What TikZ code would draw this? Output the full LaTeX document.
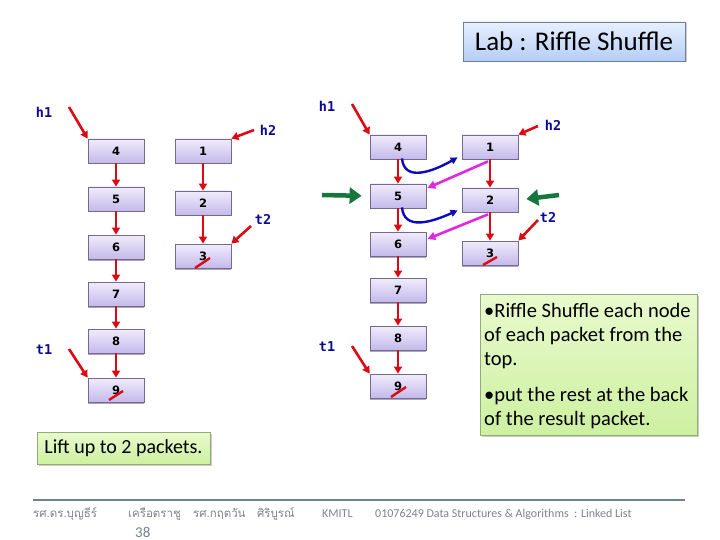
\documentclass[tikz,border=0pt]{standalone}
\usepackage{fontspec}
\setmainfont{Carlito}
\newfontfamily\numfont{DejaVu Sans}
\newfontfamily\labfont{DejaVu Sans Mono}
\newfontfamily\thaifont[Script=Thai]{Loma}
\usetikzlibrary{arrows.meta,shadows,calc}
\definecolor{boxtop}{RGB}{240,236,252}
\definecolor{boxbot}{RGB}{196,186,234}
\definecolor{boxline}{RGB}{115,105,145}
\definecolor{labblue}{RGB}{10,10,150}
\definecolor{arrred}{RGB}{220,10,20}
\definecolor{arrgreen}{RGB}{20,120,60}
\definecolor{curveblue}{RGB}{10,10,190}
\definecolor{magentaarr}{RGB}{225,40,225}
\definecolor{greentop}{RGB}{232,250,205}
\definecolor{greenbot}{RGB}{205,240,160}
\definecolor{greenline}{RGB}{150,170,120}
\definecolor{bluetop}{RGB}{232,240,255}
\definecolor{bluebot}{RGB}{180,205,245}
\definecolor{footgray}{RGB}{130,130,140}
\definecolor{footline}{RGB}{110,130,150}
\tikzset{
  listbox/.style={draw=boxline, line width=0.8pt, top color=boxtop, bottom color=boxbot,
    minimum width=56pt, minimum height=24pt, inner sep=0pt,
    font=\numfont\bfseries\fontsize{11.5}{12}\selectfont,
    drop shadow={shadow xshift=0pt, shadow yshift=-1.5pt, opacity=0.6, fill=boxline}},
  ptrlab/.style={text=labblue, font=\labfont\bfseries\fontsize{13.5}{14}\selectfont, inner sep=0pt},
  redarr/.style={draw=arrred, line width=2.6pt, -{Triangle[length=7pt,width=8pt]}},
  nullmark/.style={draw=arrred, line width=2.4pt},
  greenarr/.style={draw=arrgreen, line width=4.5pt, shorten >=8pt, -{Triangle[length=12pt,width=16pt]}},
  bluearr/.style={draw=curveblue, line width=2.4pt, -{Triangle[length=7pt,width=7pt]}},
  magarr/.style={draw=magentaarr, line width=2.6pt, -{Triangle[length=8pt,width=8pt]}},
  notebox/.style={draw=greenline, line width=0.8pt, top color=greentop, bottom color=greenbot,
    inner sep=0pt, drop shadow={shadow xshift=1.5pt, shadow yshift=-1.5pt, opacity=0.4}},
  titlebox/.style={draw=footline, line width=0.8pt, top color=bluetop, bottom color=bluebot,
    inner sep=0pt, drop shadow={shadow xshift=1.5pt, shadow yshift=-1.5pt, opacity=0.4}},
  foot/.style={text=footgray, inner sep=0pt, anchor=base west}
}
\begin{document}
\begin{tikzpicture}[x=1pt,y=-1pt]
\useasboundingbox (0,0) rectangle (720,540);
\fill[white] (0,0) rectangle (720,540);

% title
\node[titlebox, minimum width=222pt, minimum height=39pt] (title) at (574,41.5)
  {\fontsize{27}{30}\selectfont Lab : Riffle Shuffle};

% ---------- left diagram ----------
\node[listbox] (a4) at (116,151) {4};
\node[listbox] (a5) at (116,199) {5};
\node[listbox] (a6) at (116,247) {6};
\node[listbox] (a7) at (116,294) {7};
\node[listbox] (a8) at (116,341) {8};
\node[listbox] (a9) at (116,390) {9};
\node[listbox] (a1) at (203,151) {1};
\node[listbox] (a2) at (203,203) {2};
\node[listbox] (a3) at (203,256) {3};
\foreach \u/\v in {a4/a5,a5/a6,a6/a7,a7/a8,a8/a9,a1/a2,a2/a3}
  \draw[redarr] (\u.south) -- (\v.north);

\node[ptrlab] (lh1) at (44,112) {h1};
\node[ptrlab] (lh2) at (268,130) {h2};
\node[ptrlab] (lt2) at (263,219) {t2};
\node[ptrlab] (lt1) at (44,350) {t1};
\coordinate (lh1s) at (69,107);
\coordinate (lh2s) at (254,130);
\coordinate (lt2s) at (251,226);
\coordinate (lt1s) at (69,349);
\draw[redarr] (lh1s) -- (a4.north west);
\draw[redarr] (lh2s) -- (a1.north east);
\draw[redarr] (lt2s) -- (a3.north east);
\draw[redarr] (lt1s) -- (a9.north west);
\draw[nullmark] (195,268) -- (210,258);
\draw[nullmark] (109,400) -- (123,391);

% ---------- right diagram ----------
\node[listbox] (b4) at (398,147) {4};
\node[listbox] (b5) at (398,196) {5};
\node[listbox] (b6) at (398,244) {6};
\node[listbox] (b7) at (398,290) {7};
\node[listbox] (b8) at (398,338) {8};
\node[listbox] (b9) at (398,386) {9};
\node[listbox] (b1) at (490,147) {1};
\node[listbox] (b2) at (490,200) {2};
\node[listbox] (b3) at (490,253) {3};
\foreach \u/\v in {b4/b5,b5/b6,b6/b7,b7/b8,b8/b9,b1/b2,b2/b3}
  \draw[redarr] (\u.south) -- (\v.north);

\node[ptrlab] (rh1) at (327,106) {h1};
\node[ptrlab] (rh2) at (553,125) {h2};
\node[ptrlab] (rt2) at (548,217) {t2};
\node[ptrlab] (rt1) at (327,347) {t1};
\coordinate (rh1s) at (352,104);
\coordinate (rh2s) at (538,126);
\coordinate (rt2s) at (538,220);
\coordinate (rt1s) at (352,346);
\draw[redarr] (rh1s) -- (b4.north west);
\draw[redarr] (rh2s) -- (b1.north east);
\draw[redarr] (rt2s) -- (b3.north east);
\draw[redarr] (rt1s) -- (b9.north west);
\draw[nullmark] (483,265) -- (497,257);
\draw[nullmark] (391,397) -- (406,387);

% green arrows
\coordinate (gl) at (322,195);
\coordinate (gr) at (559,195);
\draw[greenarr] (gl) -- (b5.west);
\draw[greenarr] (gr) -- (b2.east);

% blue curves
\draw[bluearr] ($(b4.south)+(4,-1)$) .. controls (404,182) and (432,172) .. ($(b1.south west)+(-4,-2)$);
\draw[bluearr] ($(b5.south)+(4,-1)$) .. controls (404,231) and (432,222) .. ($(b2.south west)+(-4,-2)$);

% magenta arrows
\draw[magarr] ($(b1.south)+(-2,2)$) -- ($(b5.east)+(1,-8)$);
\draw[magarr] ($(b2.south)+(-2,2)$) -- ($(b6.east)+(1,-5)$);

% notes
\node[notebox, minimum width=173pt, minimum height=32pt] (lift) at (123.5,448)
  {\fontsize{20}{22}\selectfont Lift up to 2 packets.};
\node[notebox, minimum width=217pt, minimum height=141pt, anchor=north west] (note) at (480,294) {};
\node[anchor=north west, inner sep=0pt, align=left,
      font=\fontsize{20.5}{24}\selectfont] (notetext) at (484,303)
  {\textbullet Riffle Shuffle each node\\ of each packet from the\\ top.\\[12pt]
   \textbullet put the rest at the back\\ of the result packet.};

% footer
\coordinate (fl) at (33,500);
\coordinate (fr) at (685,500);
\draw[footline, line width=1.2pt] (fl) -- (fr);
\node[foot, font=\thaifont\fontsize{11.5}{12}\selectfont] (f1) at (33,517) {รศ.ดร.บุญธีร์};
\node[foot, font=\thaifont\fontsize{11.5}{12}\selectfont] (f2) at (128,517) {เครือตราชู};
\node[foot, font=\thaifont\fontsize{11.5}{12}\selectfont] (f3) at (193,517) {รศ.กฤตวัน\quad ศิริบูรณ์};
\node[foot, font=\fontsize{12}{13}\selectfont] (f4) at (322,517) {KMITL};
\node[foot, font=\fontsize{12}{13}\selectfont] (f5) at (375,517) {01076249 Data Structures \& Algorithms\ \ : Linked List};
\node[foot, font=\fontsize{15}{16}\selectfont, text=footline] (f6) at (135,537) {38};
\end{tikzpicture}
\end{document}
